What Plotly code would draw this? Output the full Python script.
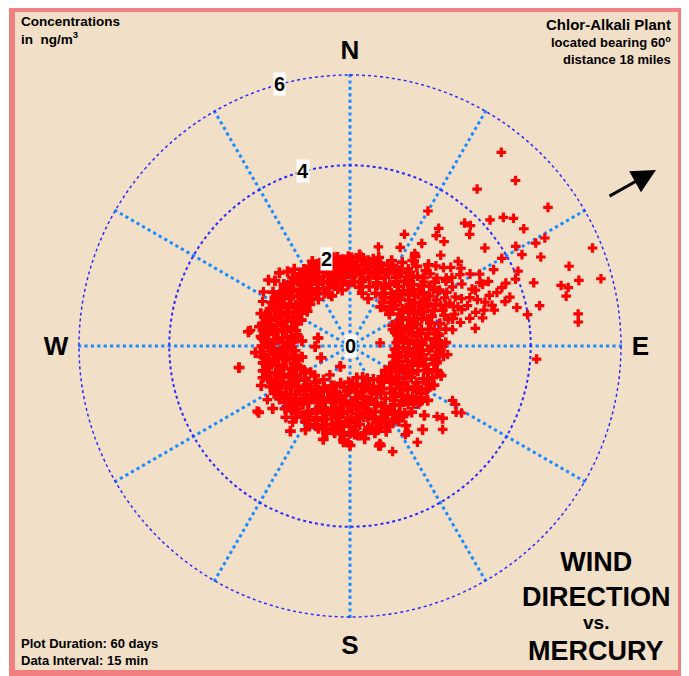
import math
import plotly.graph_objects as go

# the page body adds an 8px margin, so the figure is 8px smaller than the window
OFF = 8
W, H = 689 - OFF, 676 - OFF

# ---- data: (wind bearing in degrees, mercury concentration in ng/m3) ----
sector_000 = [(1,1.95),(3,1.72),(5,1.88),(2,1.55),(7,1.98),(8,1.64),(10,1.81),(12,1.93),(11,1.5),(14,1.7),
              (15,1.99),(17,1.86),(16,1.58),(19,1.75),(20,1.95),(22,1.62),(23,1.84),(25,1.97),(24,1.48),(27,1.71),
              (28,1.9),(29,1.57),(4,1.42),(9,1.32),(13,1.2),(18,1.38),(21,1.12),(26,1.3),(6,2.03),(18,2.06),
              (26,2.1),(0.5,1.8),(13,1.78),(21,1.79),(6,1.66),(28,2.02),(10,1.45),(23,1.52),
              (2,1.85),(8,1.9),(14,1.88),(20,1.68),(27,1.83),(4,1.62),(16,1.95),(11,1.72)]
sector_030 = [(31,1.9),(33,1.62),(32,1.35),(35,1.98),(36,1.76),(38,1.48),(37,1.22),(40,1.88),(41,1.6),(42,2.05),
              (44,1.7),(43,1.32),(46,1.95),(47,1.52),(48,1.8),(50,2.08),(49,1.25),(52,1.65),(53,1.9),(55,1.42),
              (54,2.0),(56,1.72),(58,1.96),(57,1.3),(59,1.58),(34,1.83),(39,2.1),(45,1.4),(51,1.98),(60,1.85),
              (32,2.18),(40,2.3),(47,2.22),(53,2.35),(58,2.28),(36,2.45),(44,2.5),(55,2.6),(38,1.1),(51,1.12),
              (46,1.15),(33,1.99),(42,1.45),(49,1.72),(57,1.62),
              (31,1.5),(35,1.3),(39,1.7),(43,1.88),(48,1.35),(52,1.82),(56,1.5),(59,1.9),(45,1.62),(41,1.98)]
sector_060 = [(61,1.95),(62,1.6),(63,1.3),(64,1.05),(65,1.8),(66,1.45),(67,2.02),(68,1.18),(69,1.7),(70,1.92),
              (71,1.35),(72,1.55),(73,1.05),(74,1.85),(75,1.25),(76,2.05),(77,1.62),(78,1.4),(79,1.9),(80,1.1),
              (81,1.75),(82,1.5),(83,1.98),(84,1.28),(85,1.68),(86,1.04),(87,1.88),(88,1.42),(89,2.03),(62,1.82),
              (66,1.12),(70,1.5),(74,1.2),(78,1.78),(82,1.95),(86,1.58),(64,2.1),(72,2.2),(80,2.15),(88,2.12),
              (67,2.3),(75,2.35),(60,1.5),(84,1.08),(76,1.35),(69,1.02),
              (61,1.3),(63,1.72),(65,1.15),(68,1.6),(71,1.82),(73,1.4),(77,1.08),(79,1.55),(81,1.2),(85,1.9),
              (87,1.3),(89,1.6)]
sector_090 = [(90,1.92),(91,1.5),(92,1.18),(93,1.75),(94,1.0),(95,1.98),(96,1.38),(97,1.62),(98,1.06),(99,1.85),
              (100,1.25),(101,1.95),(102,1.55),(103,0.98),(104,1.72),(105,1.32),(106,2.0),(107,1.45),(108,1.12),(109,1.82),
              (110,1.6),(111,1.96),(112,1.04),(113,1.4),(114,1.78),(115,1.2),(116,1.9),(117,1.52),(118,1.0),(119,1.68),
              (93,1.3),(97,1.9),(101,1.08),(105,1.7),(109,1.35),(113,1.88),(117,1.15),(96,2.08),(108,2.12),(115,2.05),
              (103,1.48),(111,1.25),
              (91,1.8),(94,1.55),(99,1.4),(102,1.9),(104,1.1),(107,1.8),(110,1.05),(114,1.5),(116,1.35),(119,1.95),
              (92,2.0),(100,1.62)]
sector_120 = [(120,1.95),(121,1.4),(122,1.08),(123,1.7),(124,1.88),(125,0.95),(126,1.55),(127,1.25),(128,1.98),(129,1.78),
              (130,1.12),(131,1.45),(132,1.9),(133,1.6),(134,0.98),(135,1.82),(136,1.3),(137,2.0),(138,1.5),(139,1.05),
              (140,1.72),(141,1.92),(142,1.2),(143,1.62),(144,1.85),(145,0.9),(146,1.4),(147,1.98),(148,1.68),(149,1.15),
              (123,1.28),(127,1.6),(131,1.82),(135,1.05),(139,1.38),(143,1.95),(147,1.25),(125,2.1),(133,2.25),(139,2.45),
              (128,2.6),(145,2.15),(150,1.55),(136,1.7),
              (121,1.75),(124,1.45),(126,1.95),(129,1.35),(132,1.2),(134,1.7),(137,1.45),(141,1.55),(144,1.1),(148,1.9),
              (130,1.98),(146,1.75)]
sector_150 = [(150,1.9),(151,1.2),(152,0.82),(153,1.65),(154,1.98),(155,1.4),(156,1.05),(157,1.8),(158,0.75),(159,1.55),
              (160,1.92),(161,1.28),(162,1.7),(163,0.95),(164,2.0),(165,1.45),(166,1.15),(167,1.85),(168,0.72),(169,1.6),
              (170,1.95),(171,1.35),(172,1.02),(173,1.75),(174,1.5),(175,1.98),(176,0.85),(177,1.25),(178,1.88),(179,1.62),
              (152,1.5),(156,1.72),(160,1.0),(164,1.32),(168,1.9),(172,1.55),(176,1.78),(154,0.98),(158,1.28),(162,1.95),
              (166,1.62),(170,0.88),(174,1.15),(178,1.4),(157,2.05),(171,2.08),(163,2.3),(180,2.2),
              (151,1.72),(153,1.1),(155,1.88),(159,0.9),(161,1.8),(165,1.9),(167,1.4),(169,1.1),(173,1.3),(175,1.6),
              (177,1.95),(179,0.95),(163,1.55),(157,1.4)]
sector_180 = [(180,1.92),(181,1.3),(182,0.8),(183,1.68),(184,1.98),(185,1.1),(186,1.5),(187,1.82),(188,0.92),(189,1.38),
              (190,1.95),(191,1.6),(192,1.2),(193,1.78),(194,0.85),(195,2.0),(196,1.45),(197,1.05),(198,1.7),(199,1.88),
              (200,1.25),(201,1.55),(202,0.95),(203,1.92),(204,1.35),(205,1.75),(206,1.12),(207,1.98),(208,1.6),(209,1.42),
              (183,1.0),(187,1.25),(191,1.9),(195,1.58),(199,1.1),(203,1.48),(207,1.3),(185,1.78),(193,1.45),(201,1.95),
              (205,0.98),(189,1.72),(184,2.08),(196,2.15),(208,2.1),(205,0.5),
              (181,1.7),(182,1.45),(186,1.95),(188,1.6),(190,1.15),(192,1.55),(194,1.3),(197,1.9),(198,1.3),(200,1.75),
              (202,1.6),(204,1.9),(206,1.5),(209,1.88)]
sector_210 = [(210,1.95),(211,1.4),(212,1.08),(213,1.72),(214,1.88),(215,1.25),(216,1.55),(217,1.98),(218,0.95),(219,1.65),
              (220,1.82),(221,1.3),(222,1.92),(223,1.48),(224,1.12),(225,1.75),(226,2.0),(227,1.35),(228,1.6),(229,1.9),
              (230,1.02),(231,1.7),(232,1.45),(233,1.95),(234,1.22),(235,1.58),(236,1.85),(237,1.38),(238,1.98),(239,1.15),
              (212,1.82),(216,1.2),(220,1.5),(224,1.9),(228,1.28),(232,1.78),(236,1.05),(214,1.4),(226,1.68),(238,1.55),
              (222,2.12),(234,2.5),(231,2.2),(215,2.3),
              (211,1.75),(213,1.3),(217,1.45),(219,1.9),(221,1.65),(223,1.1),(225,1.4),(227,1.85),(229,1.5),(233,1.25),
              (235,1.9),(237,1.7),(239,1.88)]
sector_240 = [(240,1.92),(241,1.35),(242,1.7),(243,1.98),(244,1.5),(245,1.2),(246,1.82),(247,1.6),(248,1.95),(249,1.4),
              (250,1.75),(251,1.28),(252,1.88),(253,1.55),(254,2.0),(255,1.65),(256,1.18),(257,1.85),(258,1.45),(259,1.96),
              (260,1.72),(261,1.3),(262,1.9),(263,1.58),(264,1.8),(265,1.22),(266,1.98),(267,1.48),(268,1.68),(269,1.92),
              (244,1.85),(248,1.3),(252,1.62),(256,1.9),(260,1.42),(264,1.6),(268,1.35),(242,1.15),(250,2.05),(259,2.5),
              (266,2.1),(246,2.15),(248,0.69),(257,1.09),
              (241,1.8),(243,1.42),(245,1.65),(247,1.9),(249,1.7),(251,1.95),(253,1.3),(255,1.88),(258,1.75),(261,1.6),
              (263,1.95),(265,1.5),(267,1.75),(269,1.45)]
sector_270 = [(270,1.95),(271,1.4),(272,1.72),(273,1.88),(274,1.25),(275,1.6),(276,1.98),(277,1.5),(278,1.82),(279,1.32),
              (280,1.92),(281,1.65),(282,1.2),(283,1.78),(284,2.0),(285,1.45),(286,1.7),(287,1.9),(288,1.35),(289,1.6),
              (290,1.96),(291,1.52),(292,1.8),(293,1.28),(294,1.68),(295,1.95),(296,1.42),(297,1.85),(298,1.58),(299,1.98),
              (272,1.38),(276,1.62),(280,1.18),(284,1.52),(288,1.85),(292,1.3),(296,1.72),(274,1.88),(286,1.25),(298,1.22),
              (278,2.27),(284,0.73),(269,0.77),(276,1.07),(290,2.1),(282,2.05),
              (271,1.78),(273,1.5),(275,1.95),(277,1.3),(279,1.7),(281,1.9),(283,1.45),(285,1.9),(287,1.55),(289,1.92),
              (291,1.72),(293,1.95),(295,1.5),(297,1.35),(299,1.75)]
sector_300 = [(300,1.92),(301,1.45),(302,1.75),(303,1.98),(304,1.3),(305,1.62),(306,1.88),(307,1.5),(308,1.95),(309,1.22),
              (310,1.7),(311,1.85),(312,1.4),(313,2.0),(314,1.58),(315,1.78),(316,1.28),(317,1.92),(318,1.65),(319,1.48),
              (320,1.98),(321,1.35),(322,1.72),(323,1.88),(324,1.55),(325,1.95),(326,1.25),(327,1.8),(328,1.62),(329,1.98),
              (303,1.6),(307,1.82),(311,1.3),(315,1.52),(319,1.9),(323,1.42),(327,1.68),(305,2.08),(311,2.2),(316,2.25),
              (320,2.15),(309,2.32),(324,2.1),
              (301,1.8),(302,1.35),(304,1.9),(306,1.45),(308,1.7),(310,1.4),(312,1.95),(314,1.85),(317,1.6),(318,1.35),
              (321,1.85),(322,1.5),(325,1.7),(326,1.9),(328,1.4)]
sector_330 = [(330,1.9),(331,1.45),(332,1.72),(333,1.98),(334,1.3),(335,1.6),(336,1.85),(337,1.52),(338,1.95),(339,1.38),
              (340,1.75),(341,1.9),(342,1.62),(343,2.0),(344,1.45),(345,1.82),(346,1.55),(347,1.96),(348,1.3),(349,1.7),
              (350,1.88),(351,1.6),(352,1.98),(353,1.42),(354,1.78),(355,1.92),(356,1.52),(357,1.85),(358,1.65),(359,1.98),
              (334,1.7),(338,1.25),(342,1.92),(346,1.38),(350,1.5),(354,1.62),(358,1.35),(336,2.05),(348,2.08),(340,1.18),
              (352,1.25),
              (331,1.85),(332,1.55),(333,1.7),(335,1.95),(337,1.78),(339,1.88),(341,1.5),(343,1.7),(345,1.96),(347,1.65),
              (349,1.9),(351,1.8),(353,1.72),(355,1.55),(357,1.7)]
plume = [(38,5.44),(45,5.18),(39,4.47),(55,5.35),(30,3.45),(48,4.17),(50,4.43),(52,4.59),(43,3.72),(45,3.77),
         (37,3.26),(38,3.10),(26,2.75),(47,3.62),(56,4.64),(42,3.11),(35,2.77),(68,5.79),(61,4.93),(61,4.70),
         (59,4.28),(62,4.31),(54,3.69),(45,2.84),(65,4.66),(52,3.04),(52,2.83),(60,3.88),(37,2.36),(62,3.60),
         (70,5.16),(61,3.28),(56,2.72),(48,2.39),(66,4.07),(75,5.75),(74,5.27),(68,3.95),(71,4.30),(74,4.86),
         (75,5.00),(65,3.38),(65,3.24),(68,3.72),(69,3.60),(70,3.46),(77,4.91),(78,4.29),(77,3.79),(80,3.99),
         (82,5.10),(84,5.08),(94,4.14)]
plume_base = [(49,2.16),(56,2.22),(58,2.34),(61,2.45),(65,2.57),(67,2.68),(68,2.86),(70,3.0),(72,3.14),(74,3.27),
              (71,2.75),(70,2.54),(67,2.4),(62,2.17),(58,2.08),(75,2.88),(75,3.07),(76,3.29),(74,3.57),(73,3.7),
              (51,1.99),(63,1.93),(69,2.2),(73,2.42),(77,2.72),(78,3.0),(61,2.83),(65,2.98),(56,2.56),(52,2.44),
              (45,2.36),(44,2.15),(37,2.14),(66,3.04),(70,3.28),(36,2.34),(27,2.45),(35,2.5),(16,2.28),
              (40,2.05),(47,2.6),(53,2.2),(57,2.9),(60,2.62),(63,2.35),(66,2.2),(69,2.45),(72,2.6),(75,2.25),
              (78,2.5),(81,2.3),(82,2.8),(59,3.1),(64,3.2),(55,3.0),(50,2.7)]
ring_edge = [(95,2.17),(100,1.95),(107,2.07),(118,2.57),(122,2.77),(129,2.48),(119,2.67),(121,2.88),(146,2.30),(163,2.26),
             (184,2.14),(181,2.14),(164,2.3),(158,2.52),(148,2.31),(145,2.6),(132,2.76),(279,2.23),(259,2.51),(297,2.17),
             (302,2.26),(235,2.51),(237,2.18),(217,2.11),(311,2.2)]
inner = [(284,0.73),(248,0.69),(269,0.77),(257,1.09),(276,1.07),(215,0.78),(205,0.51),(84,0.67)]

ring_ticks = [0, 2, 4, 6]
compass_vals = [0, 30, 60, 90, 120, 150, 180, 210, 240, 270, 300, 330]
compass_text = ["N", "", "", "E", "", "", "S", "", "", "W", "", ""]
r_max = 6.02

ring_groups = [sector_000, sector_030, sector_060, sector_090, sector_120, sector_150,
               sector_180, sector_210, sector_240, sector_270, sector_300, sector_330]
spread_groups = [plume, plume_base, ring_edge, inner]
ring_b = [b for g in ring_groups for b, c in g]
ring_c = [c for g in ring_groups for b, c in g]
spread_b = [b for g in spread_groups for b, c in g]
spread_c = [c for g in spread_groups for b, c in g]

TAN = "#f2dfc7"
PINK = "#f27f7f"
FONT = "Arial, Liberation Sans, sans-serif"
CIRCLE = "#2a2aff"
SPOKE = "#1a8cff"

fig = go.Figure()
# outer (6 ng/m3) circle, drawn as a dotted line so it matches the inner rings
circle_theta = list(range(0, 361, 2))
fig.add_trace(go.Scatterpolar(r=[ring_ticks[-1]] * len(circle_theta), theta=circle_theta, mode="lines",
                              line=dict(color=CIRCLE, width=1.6, dash="dot"), hoverinfo="skip"))
fig.add_trace(go.Scatterpolar(r=ring_c, theta=ring_b, mode="markers",
                              marker=dict(symbol="cross", size=9, color="#ff0000", line=dict(width=0)),
                              hoverinfo="skip"))
fig.add_trace(go.Scatterpolar(r=spread_c, theta=spread_b, mode="markers",
                              marker=dict(symbol="cross", size=8, color="#ff0000", line=dict(width=0)),
                              hoverinfo="skip"))

def px(x, y):
    """reference-window pixel -> paper fraction"""
    return (x - OFF) / W, 1 - (y - OFF) / H

cx_px, cy_px, R_px = 350, 346, 272
x0, y0 = px(cx_px - R_px, cy_px + R_px)
x1, y1 = px(cx_px + R_px, cy_px - R_px)

fig.update_layout(
    width=W, height=H, margin=dict(l=0, r=0, t=0, b=0),
    paper_bgcolor="white", showlegend=False, hovermode=False,
    polar=dict(
        domain=dict(x=[x0, x1], y=[y0, y1]),
        bgcolor="rgba(0,0,0,0)",
        radialaxis=dict(range=[0, r_max], tickmode="array", tickvals=ring_ticks[1:],
                        showticklabels=False, showline=False, ticks="", layer="above traces",
                        gridcolor=CIRCLE, gridwidth=1.6, griddash="dot"),
        angularaxis=dict(rotation=90, direction="clockwise", tickmode="array",
                         tickvals=compass_vals, ticktext=compass_text, layer="above traces",
                         showline=False, gridcolor=SPOKE, gridwidth=3.2, griddash="dot",
                         ticks="outside", ticklen=4, tickcolor="rgba(0,0,0,0)",
                         tickfont=dict(size=26, family=FONT, color="black", weight="bold")),
    ),
)

# frame and shadow
sx0, sy0 = px(684, 676)
sx1, sy1 = px(689, 10)
fig.add_shape(type="rect", xref="paper", yref="paper", x0=sx0, x1=sx1, y0=sy0, y1=sy1,
              fillcolor="#505050", line=dict(width=0), layer="below")
fx0, fy0 = px(12, 673)
fx1, fy1 = px(681, 9)
fig.add_shape(type="rect", xref="paper", yref="paper", x0=fx0, x1=fx1, y0=fy0, y1=fy1,
              fillcolor=TAN, line=dict(color=PINK, width=6), layer="below")

# ring value labels on bearing 345
cx, cy = (x0 + x1) / 2, (y0 + y1) / 2
lab_brg = math.radians(345)
for v in ring_ticks:
    rr = v / r_max * R_px
    fig.add_annotation(x=cx + rr * math.sin(lab_brg) / W, y=cy + rr * math.cos(lab_brg) / H,
                       xref="paper", yref="paper", text=f"<b>{v}</b>", showarrow=False,
                       xanchor="center", yanchor="middle",
                       bgcolor="white", borderpad=0,
                       font=dict(size=20, family=FONT, color="black"))

def txt(x, y, text, size, xanchor="left", align="left"):
    ax_, ay_ = px(x, y)
    fig.add_annotation(x=ax_, y=ay_, xref="paper", yref="paper", text=text,
                       showarrow=False, xanchor=xanchor, yanchor="top", align=align,
                       font=dict(size=size, family=FONT, color="black"))

txt(19, 12, "<b>Concentrations<br>in  ng/m<sup>3</sup></b>", 13.5)
txt(673, 14, "<b>Chlor-Alkali Plant</b>", 15, xanchor="right", align="right")
txt(673, 32, "<b>located bearing 60<sup>o</sup><br>distance 18 miles</b>", 13, xanchor="right", align="right")
txt(19, 634, "<b>Plot Duration: 60 days<br>Data Interval: 15 min</b>", 13)
txt(596, 545, "<b>WIND<br>DIRECTION</b>", 27, xanchor="center", align="center")
txt(596, 610, "<b>vs.</b>", 19, xanchor="center", align="center")
txt(596, 634, "<b>MERCURY</b>", 27, xanchor="center", align="center")

# arrow pointing along bearing 60
hx, hy = px(656, 170)
fig.add_annotation(x=hx, y=hy, xref="paper", yref="paper", text="",
                   showarrow=True, ax=-48, ay=27, arrowhead=2, arrowsize=1.6,
                   arrowwidth=3, arrowcolor="black")

fig.write_html("out.html")
